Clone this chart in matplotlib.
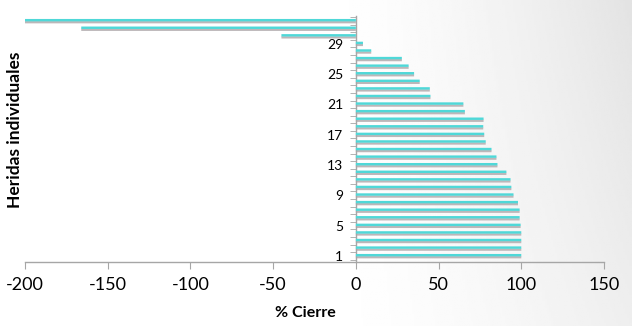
import numpy as np
import matplotlib
matplotlib.use("Agg")
import matplotlib.pyplot as plt

categories = list(range(1, 33))
values = [100, 100, 100, 100, 99.6, 99, 99, 98, 95.3, 94, 93.5, 91, 85.6, 85, 82, 78.5,
          77.6, 77, 77.2, 65.9, 65, 45.1, 44.7, 38.6, 35.2, 31.9, 27.8, 9.3, 4.3,
          -45, -166, -200]
ytick_labels = [1, 5, 9, 13, 17, 21, 25, 29]
xticks = [-200, -150, -100, -50, 0, 50, 100, 150]

plt.rcParams['font.family'] = ['Lato', 'DejaVu Sans']

fig = plt.figure(figsize=(6.32, 3.26), dpi=100)

# background gradient
bg = fig.add_axes([0, 0, 1, 1], zorder=-10)
gx = np.linspace(0, 1, 300)
gy = np.linspace(0, 1, 150)
X, Y = np.meshgrid(gx, gy)
t = np.clip((X - 0.5) / 0.5, 0, 1) ** 1.5 * (0.6 + 0.4 * (1 - Y))
bg.imshow(1 - 0.11 * t, cmap='gray', vmin=0, vmax=1, aspect='auto',
          extent=[0, 1, 0, 1], origin='upper')
bg.axis('off')

ax = fig.add_axes([25/632, 1 - 262/326, (604-25)/632, (262-16)/326])
ax.patch.set_alpha(0)

y = np.array(categories, dtype=float)
ax.barh(y - 0.17, values, height=0.3, color='#bcb7b9', zorder=2, snap=False, linewidth=0)
ax.barh(y + 0.1, values, height=0.32, color='#4fd8d8', zorder=3, snap=False, linewidth=0)

ax.set_xlim(-200, 150)
ax.set_ylim(0.2, 32.65)
ax.set_xticks(xticks)
ax.set_xticklabels([str(v) for v in xticks], fontsize=13)
ax.set_yticks(ytick_labels)
ax.set_yticklabels([str(v) for v in ytick_labels], fontsize=13)
ax.set_yticks(np.arange(0.5, 33, 1), minor=True)

ax.spines['top'].set_visible(False)
ax.spines['right'].set_visible(False)
ax.spines['left'].set_position(('data', 0))
for s in ('left', 'bottom'):
    ax.spines[s].set_color('#a6a6a6')
    ax.spines[s].set_linewidth(1.0)

ax.tick_params(axis='x', direction='out', length=5, color='#a6a6a6', pad=6)
ax.tick_params(axis='y', which='major', length=0, pad=9)
ax.tick_params(axis='y', which='minor', direction='out', length=4, color='#a6a6a6')

fig.text(305/632, 1 - 313/326, '% Cierre', ha='center', va='center',
         fontsize=11.5, fontweight='bold')
fig.text(15/632, 1 - 130/326, 'Heridas individuales', ha='center', va='center',
         rotation=90, fontsize=12.5, fontweight='bold')

fig.savefig('out.png', dpi=100)
